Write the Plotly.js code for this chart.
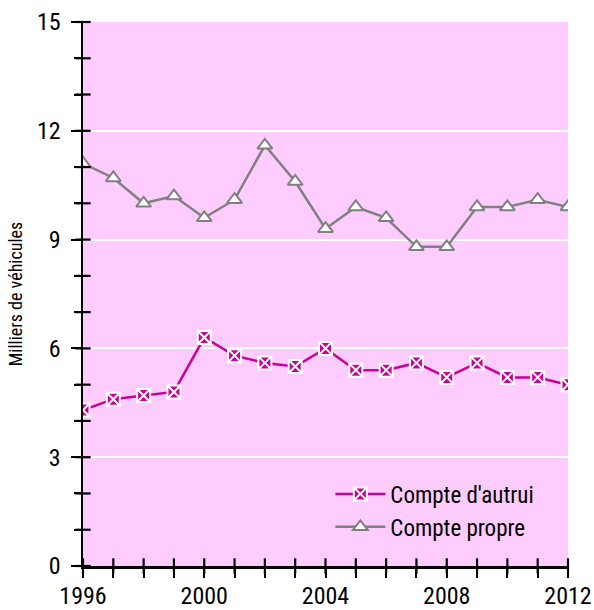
<!DOCTYPE html>
<html>
<head>
<meta charset="utf-8">
<script src="https://cdn.plot.ly/plotly-3.0.1.min.js"></script>
<style>
html,body{margin:0;padding:0;background:#fff;}
#chart{width:594px;height:610px;}
</style>
</head>
<body>
<div id="chart"></div>
<script>
const years = [1996,1997,1998,1999,2000,2001,2002,2003,2004,2005,2006,2007,2008,2009,2010,2011,2012];
const compteAutrui = [4.3,4.6,4.7,4.8,6.3,5.8,5.6,5.5,6.0,5.4,5.4,5.6,5.2,5.6,5.2,5.2,5.0];
const comptePropre = [11.1,10.7,10.0,10.2,9.6,10.1,11.6,10.6,9.3,9.9,9.6,8.8,8.8,9.9,9.9,10.1,9.9];
const seriesNames = ["Compte d'autrui", "Compte propre"];
const yTitle = "Milliers de véhicules";
const xLabelYears = [1996, 2000, 2004, 2008, 2012];
const yMajorTicks = [0, 3, 6, 9, 12, 15];
const yAllTicks = [0,1,2,3,4,5,6,7,8,9,10,11,12,13,14,15];

const FONT = "'Roboto Condensed', Roboto, 'DejaVu Sans', sans-serif";
const X_MIN = years[0], Y_MIN = yAllTicks[0];

const traces = [
  {
    x: years, y: compteAutrui, name: seriesNames[0], type: 'scatter', mode: 'lines+markers',
    line: {color: '#CC0099', width: 2.5},
    marker: {symbol: 'square-x', size: 13, color: '#CC0099', line: {color: '#ffffff', width: 2}}
  },
  {
    x: years, y: comptePropre, name: seriesNames[1], type: 'scatter', mode: 'lines+markers',
    line: {color: '#808080', width: 2.5},
    marker: {symbol: 'triangle-up', size: 13, color: '#ffffff', line: {color: '#808080', width: 2}}
  },
  // tick marks that cross the x axis (one per year)
  {
    x: years, y: years.map(() => Y_MIN), type: 'scatter', mode: 'markers', showlegend: false,
    hoverinfo: 'skip', cliponaxis: false,
    marker: {symbol: 'line-ns-open', size: 11, color: '#000000', opacity: 1, line: {color: '#000000', width: 2.2}}
  },
  // tick marks that cross the y axis (one per unit)
  {
    x: yAllTicks.map(() => X_MIN), y: yAllTicks, type: 'scatter', mode: 'markers', showlegend: false,
    hoverinfo: 'skip', cliponaxis: false,
    marker: {symbol: 'line-ew-open', size: 11, color: '#000000', opacity: 1, line: {color: '#000000', width: 2.2}}
  }
];

const layout = {
  width: 594, height: 610,
  margin: {l: 83, r: 26, t: 22, b: 44},
  paper_bgcolor: '#ffffff',
  plot_bgcolor: '#FFCCFF',
  font: {family: FONT, size: 24, color: '#000'},
  showlegend: true,
  legend: {x: 0.51, y: 0.172, xanchor: 'left', yanchor: 'top', bgcolor: 'rgba(0,0,0,0)',
           font: {family: FONT, size: 23, color: '#000'}, tracegroupgap: 0, itemwidth: 50},
  xaxis: {
    range: [1996, 2012], tickmode: 'array', tickvals: xLabelYears, ticktext: xLabelYears.map(String),
    ticklabeloverflow: 'allow', ticklabelstandoff: -2,
    ticks: 'outside', ticklen: 9, tickwidth: 2, tickcolor: '#000',
    minor: {tickmode: 'array', tickvals: years, ticks: 'outside', ticklen: 9, tickwidth: 2, tickcolor: '#000'},
    showline: true, linecolor: '#000', linewidth: 2.5, showgrid: false, zeroline: false,
    tickfont: {family: FONT, size: 24}, fixedrange: true
  },
  yaxis: {
    range: [0, 15], tickmode: 'array', tickvals: yMajorTicks, ticktext: yMajorTicks.map(String),
    ticks: 'outside', ticklen: 10, tickwidth: 2, tickcolor: '#000', ticklabelstandoff: 5,
    minor: {tickmode: 'array', tickvals: yAllTicks, ticks: 'outside', ticklen: 7, tickwidth: 2, tickcolor: '#000', showgrid: false},
    showline: true, linecolor: '#000', linewidth: 2.5, showgrid: true, gridcolor: '#ffffff', gridwidth: 2,
    zeroline: false, tickfont: {family: FONT, size: 24},
    title: {text: yTitle, font: {family: FONT, size: 18}, standoff: 10}, fixedrange: true
  }
};

Plotly.newPlot('chart', traces, layout, {displayModeBar: false, staticPlot: true});
</script>
</body>
</html>
